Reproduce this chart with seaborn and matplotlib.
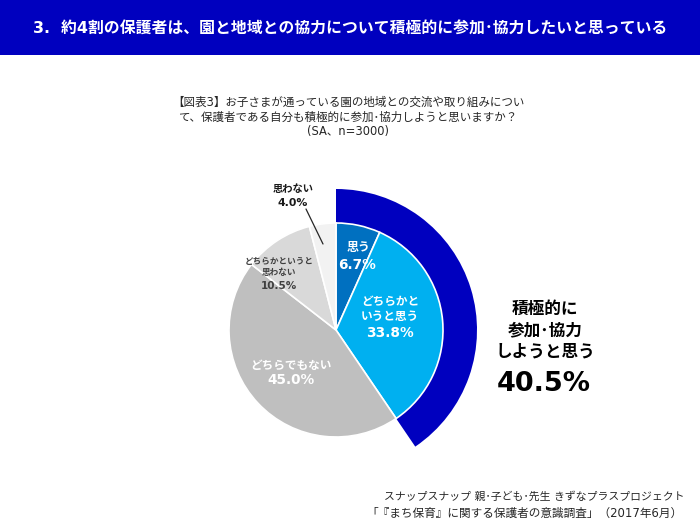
"""
보호자 의식조사 원형 차트 생성 모듈
"""
import matplotlib.pyplot as plt
import seaborn as sns

# 차트 데이터
categories = ['思う', 'どちらかというと思う', 'どちらでもない', 'どちらかというと思わない', '思わない']
shares = [6.7, 33.8, 45.0, 10.5, 4.0]
positive_share = [40.5, 59.5]

# 기본 스타일 설정
sns.set_style("white")

# 일본어 폰트 설정
plt.rcParams['font.family'] = ['DejaVu Sans', 'Noto Sans CJK JP']
plt.rcParams['axes.unicode_minus'] = False


class ChartGenerator:
    """차트 생성 클래스"""

    def __init__(self):
        # 색상 팔레트
        self.colors = {
            'band': '#0000BF',
            'blue': '#0070C0',
            'sky': '#00B0F0',
            'gray': '#BFBFBF',
            'light': '#D9D9D9',
            'pale': '#F2F2F2',
            'text': '#262626'
        }

    def generate_pie_chart(self):
        """원형 차트 생성"""
        fig = plt.figure(figsize=(7, 5.29), dpi=100)
        ax = fig.add_axes([0, 0, 1, 1])

        palette = sns.color_palette([self.colors['blue'], self.colors['sky'], self.colors['gray'],
                                     self.colors['light'], self.colors['pale']])

        # 바깥쪽 호 (적극 참가 합계)
        ax.pie(positive_share, colors=[self.colors['band'], 'none'], startangle=90, counterclock=False,
               radius=141, center=(336, 199), wedgeprops=dict(width=36, linewidth=0), frame=True)

        # 안쪽 원형 차트
        ax.pie(shares, colors=palette, startangle=90, counterclock=False, radius=107, center=(336, 199),
               wedgeprops=dict(edgecolor='white', linewidth=1.2), frame=True)

        # 축 범위는 픽셀과 같게 (y축은 아래에서 위로)
        ax.set_xlim(0, 700)
        ax.set_ylim(0, 529)
        ax.set_aspect('equal')
        ax.axis('off')

        # 상단 제목 띠
        ax.axhspan(474, 529, color=self.colors['band'], linewidth=0)
        ax.text(350, 500, '3.  約4割の保護者は、園と地域との協力について積極的に参加･協力したいと思っている',
                ha='center', va='center', color='white', fontsize=11.4, fontweight='bold')

        # 질문 문구
        ax.text(348, 412, '【図表3】お子さまが通っている園の地域との交流や取り組みについ\n'
                          'て、保護者である自分も積極的に参加･協力しようと思いますか？\n(SA、n=3000)',
                ha='center', va='center', color=self.colors['text'], fontsize=8.3, linespacing=1.2)

        # 조각 레이블 (글자와 숫자 크기가 다름)
        ax.text(358, 281, categories[0], ha='center', va='center', color='white',
                fontsize=8.6, fontweight='bold')
        ax.text(357, 264, f'{shares[0]:.1f}%', ha='center', va='center', color='white',
                fontsize=9.8, fontweight='bold')
        ax.text(390, 220, 'どちらかと\nいうと思う', ha='center', va='center', color='white',
                fontsize=8.4, fontweight='bold', linespacing=1.2)
        ax.text(390, 196, f'{shares[1]:.1f}%', ha='center', va='center', color='white',
                fontsize=9.8, fontweight='bold')
        ax.text(291, 164, categories[2], ha='center', va='center', color='white',
                fontsize=8.4, fontweight='bold')
        ax.text(291, 149, f'{shares[2]:.1f}%', ha='center', va='center', color='white',
                fontsize=9.8, fontweight='bold')
        ax.text(279, 262, 'どちらかというと\n思わない', ha='center', va='center', color='#404040',
                fontsize=6.2, fontweight='bold', linespacing=1.25)
        ax.text(279, 243, f'{shares[3]:.1f}%', ha='center', va='center', color='#404040',
                fontsize=7.5, fontweight='bold')
        ax.text(293, 340, categories[4], ha='center', va='center', color='#1a1a1a',
                fontsize=7.4, fontweight='bold')
        ax.text(293, 326, f'{shares[4]:.1f}%', ha='center', va='center', color='#1a1a1a',
                fontsize=7.8, fontweight='bold')

        # 지시선
        ax.annotate('', xy=(323, 285), xytext=(306, 320),
                    arrowprops=dict(arrowstyle='-', color='#262626', linewidth=0.9,
                                    shrinkA=0, shrinkB=0))

        # 합계 레이블
        ax.text(545, 199, '積極的に\n参加･協力\nしようと思う', ha='center', va='center', color='black',
                fontsize=12, fontweight='bold', linespacing=1.25)
        ax.text(544, 145, f'{positive_share[0]}%', ha='center', va='center', color='black',
                fontsize=19.5, fontweight='bold')

        # 출처
        ax.text(685, 33, 'スナップスナップ 親･子ども･先生 きずなプラスプロジェクト', ha='right', va='center',
                color=self.colors['text'], fontsize=7.8)
        ax.text(683, 16, '「『まち保育』に関する保護者の意識調査」（2017年6月）', ha='right', va='center',
                color=self.colors['text'], fontsize=8.4)

        plt.savefig('out.png', dpi=100)
        plt.close()


ChartGenerator().generate_pie_chart()
